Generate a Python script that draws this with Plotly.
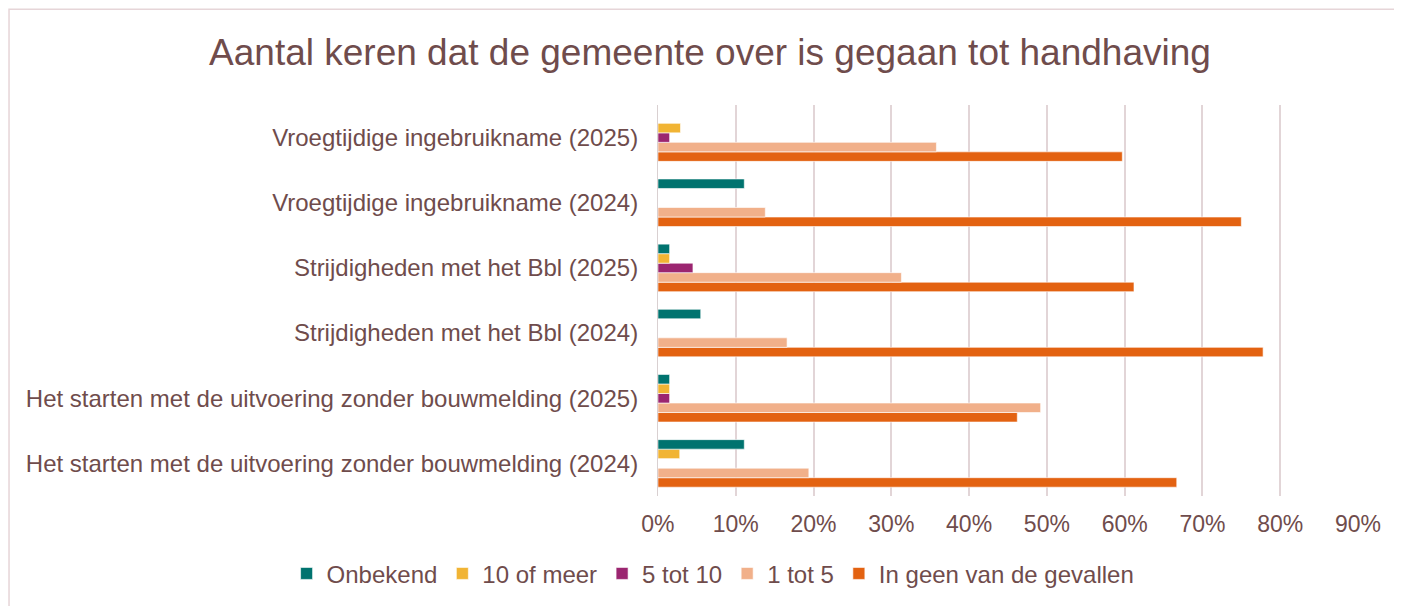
import plotly.graph_objects as go

# categories from bottom to top (plotly order)
categories = [
    "Het starten met de uitvoering zonder bouwmelding (2024)",
    "Het starten met de uitvoering zonder bouwmelding (2025)",
    "Strijdigheden met het Bbl (2024)",
    "Strijdigheden met het Bbl (2025)",
    "Vroegtijdige ingebruikname (2024)",
    "Vroegtijdige ingebruikname (2025)",
]

onbekend = [0.111, 0.015, 0.055, 0.015, 0.111, 0.0]
tien_of_meer = [0.028, 0.015, 0.0, 0.015, 0.0, 0.029]
vijf_tot_tien = [0.0, 0.015, 0.0, 0.045, 0.0, 0.015]
een_tot_vijf = [0.194, 0.492, 0.166, 0.313, 0.138, 0.358]
in_geen = [0.667, 0.462, 0.778, 0.612, 0.750, 0.597]

series = [
    ("Onbekend", onbekend, "#00736f"),
    ("10 of meer", tien_of_meer, "#f1b434"),
    ("5 tot 10", vijf_tot_tien, "#9b2570"),
    ("1 tot 5", een_tot_vijf, "#f1b08a"),
    ("In geen van de gevallen", in_geen, "#e36211"),
]

text_color = "#6f4c4c"
font = "Liberation Sans, Arial, sans-serif"

fig = go.Figure()

# plotly draws the first trace at the bottom of a group, so add them reversed
for name, vals, color in reversed(series):
    fig.add_trace(go.Bar(
        y=categories, x=vals, name=name, orientation="h",
        marker=dict(color=color, line=dict(color="rgba(255,255,255,0.6)", width=1)),
    ))

fig.update_layout(
    width=1402, height=606,
    paper_bgcolor="white", plot_bgcolor="white",
    margin=dict(l=12, r=52, t=97, b=118),
    barmode="group", bargap=0.27, bargroupgap=0,
    font=dict(family=font, color=text_color, size=24),
    title=dict(
        text="Aantal keren dat de gemeente over is gegaan tot handhaving",
        font=dict(size=37, color=text_color),
        x=0.5007, xref="container", xanchor="center",
        y=0.9274, yref="container", yanchor="middle",
    ),
    legend=dict(
        orientation="h", traceorder="reversed",
        x=0.518, xanchor="center",
        y=-0.199, yanchor="middle",
        font=dict(size=24), itemwidth=30,
    ),
    shapes=[dict(
        type="rect", xref="paper", yref="paper",
        x0=-0.0082, x1=1.1, y0=-0.3, y1=1.245,
        line=dict(color="#e6d5d8", width=1.5), layer="below",
    )],
)

fig.update_xaxes(
    domain=[0.4768, 1.0],
    range=[0, 0.9], tickformat=".0%", dtick=0.1,
    showgrid=True, gridcolor="#e2d5d7", gridwidth=2,
    zeroline=False, showline=False, ticks="", automargin=False,
    ticklabelstandoff=12,
    tickfont=dict(size=23, color=text_color),
)
fig.update_yaxes(
    showgrid=False, showline=True, linecolor="#d9d0d1", linewidth=1,
    ticks="", ticklabelstandoff=14, automargin=False,
    tickfont=dict(size=24, color=text_color),
)

fig.write_html("out.html")
